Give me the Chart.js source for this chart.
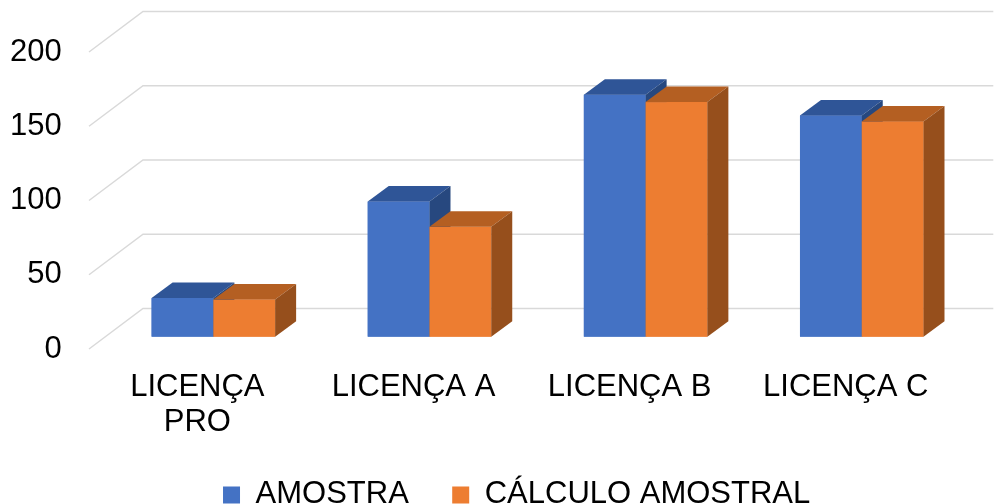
<!DOCTYPE html>
<html>
<head>
<meta charset="utf-8">
<script src="https://cdn.jsdelivr.net/npm/chart.js@4"></script>
<style>
  html, body { margin: 0; padding: 0; background: #fff; }
  #wrap { width: 996px; height: 504px; }
</style>
</head>
<body>
<div id="wrap"><canvas id="licencas"></canvas></div>
<script>
const categories = [['LICENÇA', 'PRO'], 'LICENÇA A', 'LICENÇA B', 'LICENÇA C'];
const amostra = [26, 91, 163, 149];
const calculoAmostral = [25, 74, 158, 145];
const yTicks = { min: 0, max: 200, step: 50 };

const FONT = '"Liberation Sans", Arial, sans-serif';

// pseudo-3D geometry, in pixels, relative to the plane the bar fronts sit in
const BAR_DEPTH = { dx: 21, dy: -15.5 };
const FLOOR_FRONT = { dx: -16.3, dy: 12.3 };
const BACK_WALL = { dx: 37.7, dy: -28.2 };

const faces = [
  { front: '#4472C4', top: '#2F5597', side: '#27487F' },
  { front: '#ED7D31', top: '#B45F22', side: '#964F1C' }
];

// grid lines run from the front edge of the floor, back along the side wall, then across the back wall
const wallGrid = {
  id: 'wallGrid',
  beforeDatasetsDraw(chart) {
    const { ctx, chartArea: area } = chart;
    const y = chart.scales.y;
    ctx.save();
    ctx.strokeStyle = '#D9D9D9';
    ctx.lineWidth = 1.5;
    y.ticks.forEach(t => {
      const py = y.getPixelForValue(t.value);
      ctx.beginPath();
      ctx.moveTo(area.left + FLOOR_FRONT.dx, py + FLOOR_FRONT.dy);
      ctx.lineTo(area.left + BACK_WALL.dx, py + BACK_WALL.dy);
      ctx.lineTo(area.right + 23.5, py + BACK_WALL.dy);
      ctx.stroke();
    });
    ctx.restore();
  }
};

// draws each bar as a box: front, top and right side, category by category
const boxes = {
  id: 'boxes',
  afterDatasetsDraw(chart) {
    const { ctx } = chart;
    const { dx, dy } = BAR_DEPTH;
    ctx.save();
    chart.data.labels.forEach((_, j) => {
      chart.data.datasets.forEach((ds, i) => {
        const bar = chart.getDatasetMeta(i).data[j];
        const left = bar.x - bar.width / 2;
        const right = bar.x + bar.width / 2;
        const top = bar.y, base = bar.base;
        const f = faces[i];

        ctx.fillStyle = f.front;
        ctx.fillRect(left, top, bar.width, base - top);

        ctx.fillStyle = f.top;
        ctx.beginPath();
        ctx.moveTo(left, top);
        ctx.lineTo(left + dx, top + dy);
        ctx.lineTo(right + dx, top + dy);
        ctx.lineTo(right, top);
        ctx.closePath();
        ctx.fill();

        ctx.fillStyle = f.side;
        ctx.beginPath();
        ctx.moveTo(right, top);
        ctx.lineTo(right + dx, top + dy);
        ctx.lineTo(right + dx, base + dy);
        ctx.lineTo(right, base);
        ctx.closePath();
        ctx.fill();
      });
    });
    ctx.restore();
  }
};

new Chart(document.getElementById('licencas'), {
  type: 'bar',
  data: {
    labels: categories,
    datasets: [
      { label: 'AMOSTRA', data: amostra, backgroundColor: faces[0].front },
      { label: 'CÁLCULO AMOSTRAL', data: calculoAmostral, backgroundColor: faces[1].front }
    ]
  },
  options: {
    responsive: true,
    maintainAspectRatio: false,
    animation: false,
    events: [],
    categoryPercentage: 0.5715,
    barPercentage: 1,
    layout: { padding: { left: 63.5, right: 26.2, top: 39.7, bottom: 0 } },
    scales: {
      x: {
        grid: { display: false, drawTicks: false },
        border: { display: false },
        ticks: {
          color: '#000',
          font: { family: FONT, size: 31, lineHeight: 1.13 },
          padding: 33,
          labelOffset: -16,
          maxRotation: 0,
          autoSkip: false
        },
        afterFit(scale) { scale.height = 99.3; }
      },
      y: {
        min: yTicks.min,
        max: yTicks.max,
        grid: { display: false, drawTicks: false },
        border: { display: false },
        ticks: {
          stepSize: yTicks.step,
          color: '#000',
          font: { family: FONT, size: 31 },
          // labels sit on the front edge of the floor, right-aligned left of it
          mirror: true,
          crossAlign: 'far',
          padding: -95.3,
          labelOffset: 12.3
        },
        afterFit(scale) {
          scale.width = 41.8;
          scale.paddingTop = 0;
          scale.paddingBottom = 0;
        }
      }
    },
    plugins: {
      tooltip: { enabled: false },
      legend: {
        position: 'bottom',
        maxHeight: 68,
        labels: {
          color: '#000',
          font: { family: FONT, size: 31 },
          boxWidth: 17,
          boxHeight: 17,
          padding: 43.4
        }
      }
    }
  },
  plugins: [wallGrid, boxes]
});
</script>
</body>
</html>
